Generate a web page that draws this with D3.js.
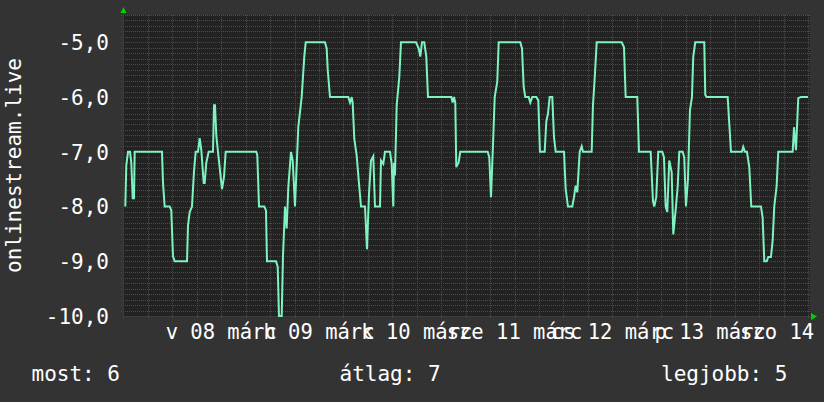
<!DOCTYPE html>
<html>
<head>
<meta charset="utf-8">
<script src="https://cdn.jsdelivr.net/npm/d3@7"></script>
<style>
    html, body { margin: 0; padding: 0; background: #333333; }
    #chart { width: 824px; height: 402px; }
    text { font-family: 'DejaVu Sans Mono', monospace; fill: #ffffff; }
</style>
</head>
<body>
<div id="chart"></div>
<script>
const seriesName = 'onlinestream.live';
const startTime = '2015-03-07T12:00:00';
const spanHours = 168.5;

// line vertices: hours since startTime, value
const hoursFromStart = [
    0.47, 0.71, 1.13, 1.62, 1.94, 2.28, 2.60, 2.77, 9.47, 9.72, 10.13, 11.36, 11.75, 12.17, 12.59,
    15.61, 15.85, 16.27, 16.83, 17.33, 17.74, 18.31, 18.72, 19.12, 19.71, 19.95, 20.34, 20.93,
    21.99, 22.23, 22.48, 22.80, 23.21, 24.20, 24.69, 25.10, 32.61, 32.86, 33.28,
    34.58, 34.99, 35.24, 37.45, 37.87, 38.18, 38.85, 39.17, 39.66, 40.07, 40.47, 41.13, 41.55,
    42.11, 42.92, 43.75, 44.39, 44.74, 49.47, 49.89, 50.14, 50.70, 55.19, 55.61, 56.03, 56.27,
    56.66, 57.25, 57.82, 58.31, 59.29, 59.78, 60.27, 60.76, 61.33, 61.74, 62.97, 63.22, 63.78,
    64.20, 65.42, 65.84, 66.23,
    66.41, 66.65, 67.07, 67.71, 68.12, 71.80, 72.47, 72.86, 73.28, 73.84, 74.33, 74.75, 80.47,
    80.81, 81.13, 81.45, 81.69, 82.28, 82.67, 89.40, 89.79, 90.21, 90.70, 91.12, 91.75, 92.10,
    97.40, 97.82, 98.23, 98.63, 99.46, 99.85, 100.34,
    101.33, 101.82, 102.23, 103.39, 103.78, 104.20, 104.61, 105.25, 105.67, 106.09, 108.13,
    108.54, 109.10, 110.16, 110.58, 110.99, 111.39, 111.98, 112.47, 112.79, 114.92, 115.24,
    115.73, 116.15, 122.28, 122.85, 123.26, 126.11, 126.53, 129.40, 129.96, 130.28, 130.77,
    131.26, 132.25, 132.66, 133.08, 133.47,
    133.96, 134.55, 134.95, 135.61, 136.03, 136.42, 137.25, 137.64, 138.06, 138.55, 139.04,
    139.53, 139.85, 140.34, 142.55, 142.80, 143.14, 148.30, 148.69, 149.11, 151.80, 152.12,
    152.54, 153.03, 153.60, 154.09, 156.47, 156.88, 157.28, 157.87, 158.26, 158.92, 159.34,
    159.73, 160.32, 160.71, 164.25, 164.57, 165.06, 165.62, 166.28, 168.00
];
const liveValues = [
    -8.0, -7.25, -7.0, -7.0, -7.2, -7.85, -7.85, -7.0, -7.0, -7.57, -8.0, -8.0, -8.07, -8.91, -9.0,
    -9.0, -8.35, -8.1, -8.0, -7.35, -7.0, -7.0, -6.75, -6.97, -7.57, -7.57, -7.2, -7.0,
    -7.0, -6.15, -6.15, -6.7, -7.0, -7.68, -7.46, -7.0, -7.0, -7.06, -8.0,
    -8.0, -8.07, -9.0, -9.0, -9.1, -10.0, -10.0, -8.9, -8.0, -8.4, -7.65, -7.0,
    -7.16, -8.0, -6.55, -6.0, -5.26, -5.0, -5.0, -5.11, -5.5, -6.0, -6.0, -6.1, -6.0,
    -6.1, -6.76, -7.07, -7.58, -8.0, -8.0, -8.78, -7.77, -7.16, -7.08, -8.0, -8.0, -7.16,
    -7.22, -7.0, -7.0, -7.22, -8.0,
    -7.2, -7.43, -6.15, -5.63, -5.0, -5.0, -5.11, -5.26, -5.0, -5.0, -5.26, -6.0, -6.0,
    -6.1, -6.0, -6.1, -7.28, -7.19, -7.0, -7.0, -7.1, -7.83, -6.88, -6.0, -5.72, -5.0,
    -5.0, -5.11, -5.81, -6.0, -6.0, -6.1, -6.0,
    -6.0, -6.06, -7.0, -7.0, -6.45, -6.3, -6.0, -6.0, -6.73, -7.0, -7.0,
    -7.68, -8.0, -8.0, -7.83, -7.62, -7.74, -7.0, -6.9, -7.0, -7.0, -6.15,
    -5.57, -5.0, -5.0, -5.09, -6.0, -6.0, -7.0, -7.0, -7.9, -8.0, -7.83,
    -7.0, -7.0, -7.1, -8.0, -8.1,
    -7.16, -7.37, -8.51, -8.0, -7.63, -7.0, -7.0, -7.1, -8.0, -7.5, -6.24,
    -6.0, -5.26, -5.0, -5.0, -5.96, -6.0, -6.0, -6.49, -7.0, -7.0, -6.91,
    -7.0, -7.0, -7.28, -8.0, -8.0, -8.2, -9.0, -9.0, -8.92, -8.92, -8.62,
    -8.0, -7.62, -7.0, -7.0, -6.55, -6.97, -6.02, -6.0, -6.0
];

const yDomain = [-10, -4.5];
const yTicks = [-10, -9, -8, -7, -6, -5];
const legendLabels = ['most', 'átlag', 'legjobb'];
const legendValues = [6, 7, 5];
const dayNames = ['v', 'h', 'k', 'sze', 'cs', 'p', 'szo'];
const monthNames = ['jan', 'febr', 'márc', 'ápr', 'máj', 'jún', 'júl', 'aug', 'szept', 'okt', 'nov', 'dec'];

class RrdGraph {
    constructor(containerId) {
        this.containerId = containerId;
        this.width = 824;
        this.height = 402;
        this.plot = { left: 123.4, right: 810, top: 15, bottom: 316 };
        this.lineColor = '#7ef2bf';
        this.init();
    }

    init() {
        this.svg = d3.select(`#${this.containerId}`)
            .append('svg')
            .attr('width', this.width)
            .attr('height', this.height);

        const start = new Date(startTime);
        this.x = d3.scaleTime()
            .domain([start, d3.timeMinute.offset(start, spanHours * 60)])
            .range([this.plot.left, this.plot.right]);
        this.y = d3.scaleLinear()
            .domain(yDomain)
            .range([this.plot.bottom, this.plot.top]);

        const timeLocale = d3.timeFormatLocale({
            dateTime: '%Y. %B %-e. %X', date: '%Y. %m. %d.', time: '%H:%M:%S',
            periods: ['de.', 'du.'],
            days: ['vasárnap', 'hétfő', 'kedd', 'szerda', 'csütörtök', 'péntek', 'szombat'],
            shortDays: dayNames,
            months: ['január', 'február', 'március', 'április', 'május', 'június', 'július',
                'augusztus', 'szeptember', 'október', 'november', 'december'],
            shortMonths: monthNames
        });
        this.dayFormat = timeLocale.format('%a %d %b');
        this.numFormat = d3.formatLocale({
            decimal: ',', thousands: ' ', grouping: [3], currency: ['', ' Ft'], minus: '-'
        }).format('.1f');

        this.svg.append('rect')
            .attr('width', this.width)
            .attr('height', this.height)
            .attr('fill', '#333333');
        this.svg.append('rect')
            .attr('x', this.plot.left)
            .attr('y', this.plot.top)
            .attr('width', this.plot.right - this.plot.left)
            .attr('height', this.plot.bottom - this.plot.top)
            .attr('fill', '#222222');

        this.drawGrid();
        this.drawAxes();
        this.drawLine();
        this.drawLegend();
    }

    drawGrid() {
        const g = this.svg.append('g').attr('shape-rendering', 'crispEdges');
        const minorY = d3.range(-100, -44).map(v => v / 10).filter(v => v % 1 !== 0);

        g.selectAll('.hminor')
            .data(minorY)
            .enter()
            .append('line')
            .attr('x1', this.plot.left - 2)
            .attr('x2', this.plot.right + 1)
            .attr('y1', d => Math.round(this.y(d)) + 0.5)
            .attr('y2', d => Math.round(this.y(d)) + 0.5)
            .attr('stroke', '#4c4c4c')
            .attr('stroke-dasharray', '1,1');

        const [t0, t1] = this.x.domain();
        const hours = d3.timeHour.every(6).range(t0, t1).filter(d => d.getHours() !== 0);
        g.selectAll('.vminor')
            .data(hours)
            .enter()
            .append('line')
            .attr('x1', d => Math.round(this.x(d)) + 0.5)
            .attr('x2', d => Math.round(this.x(d)) + 0.5)
            .attr('y1', this.plot.top)
            .attr('y2', this.plot.bottom + 2)
            .attr('stroke', '#4c4c4c')
            .attr('stroke-dasharray', '1,1');

        g.selectAll('.hmajor')
            .data(yTicks.filter(v => v > yDomain[0]))
            .enter()
            .append('line')
            .attr('x1', this.plot.left - 2)
            .attr('x2', this.plot.right + 1)
            .attr('y1', d => Math.round(this.y(d)) + 0.5)
            .attr('y2', d => Math.round(this.y(d)) + 0.5)
            .attr('stroke', '#7a3232')
            .attr('stroke-dasharray', '1,1');

        g.selectAll('.vmajor')
            .data(d3.timeDay.range(t0, t1))
            .enter()
            .append('line')
            .attr('x1', d => Math.round(this.x(d)) + 0.5)
            .attr('x2', d => Math.round(this.x(d)) + 0.5)
            .attr('y1', this.plot.top)
            .attr('y2', this.plot.bottom + 2)
            .attr('stroke', '#7a3232')
            .attr('stroke-dasharray', '1,1');
    }

    drawAxes() {
        const g = this.svg.append('g');
        const left = Math.round(this.plot.left) + 0.5;
        const bottom = Math.round(this.plot.bottom) + 0.5;

        g.append('line')
            .attr('x1', left).attr('x2', left)
            .attr('y1', this.plot.top - 3).attr('y2', bottom)
            .attr('stroke', '#3c3c3c');
        g.append('line')
            .attr('x1', left).attr('x2', this.plot.right + 2)
            .attr('y1', bottom).attr('y2', bottom)
            .attr('stroke', '#3c3c3c');

        g.append('path')
            .attr('d', `M${left - 3},${this.plot.top - 2}L${left + 3},${this.plot.top - 2}L${left},${this.plot.top - 8}Z`)
            .attr('fill', '#00d000');
        g.append('path')
            .attr('d', `M${this.plot.right + 1},${bottom - 3.5}L${this.plot.right + 1},${bottom + 3.5}L${this.plot.right + 7},${bottom}Z`)
            .attr('fill', '#00d000');

        g.selectAll('.ylabel')
            .data(yTicks)
            .enter()
            .append('text')
            .attr('x', 109)
            .attr('y', d => this.y(d) + 7.7)
            .attr('text-anchor', 'end')
            .attr('font-size', '21px')
            .text(d => this.numFormat(d));

        const [t0, t1] = this.x.domain();
        const days = d3.timeDay.range(d3.timeDay.ceil(t0), t1);
        g.selectAll('.xlabel')
            .data(days)
            .enter()
            .append('text')
            .attr('x', d => this.x(d3.timeHour.offset(d, 12)))
            .attr('y', 339)
            .attr('text-anchor', 'middle')
            .attr('font-size', '20.5px')
            .text(d => this.dayFormat(d));

        g.append('text')
            .attr('transform', `translate(21,${(this.plot.top + this.plot.bottom) / 2}) rotate(-90)`)
            .attr('text-anchor', 'middle')
            .attr('font-size', '21px')
            .text(seriesName);
    }

    drawLine() {
        const start = new Date(startTime);
        const points = hoursFromStart.map((h, i) => ({
            time: d3.timeSecond.offset(start, Math.round(h * 3600)),
            value: liveValues[i]
        }));

        const line = d3.line()
            .x(d => this.x(d.time))
            .y(d => this.y(d.value));

        this.svg.append('path')
            .datum(points)
            .attr('d', line)
            .attr('fill', 'none')
            .attr('stroke', this.lineColor)
            .attr('stroke-width', 2)
            .attr('stroke-linejoin', 'miter');
    }

    drawLegend() {
        const xs = [31.5, 339.5, 661];
        this.svg.selectAll('.legend')
            .data(legendLabels)
            .enter()
            .append('text')
            .attr('x', (d, i) => xs[i])
            .attr('y', 381)
            .attr('font-size', '21px')
            .text((d, i) => `${d}: ${legendValues[i]}`);
    }
}

new RrdGraph('chart');
</script>
</body>
</html>
